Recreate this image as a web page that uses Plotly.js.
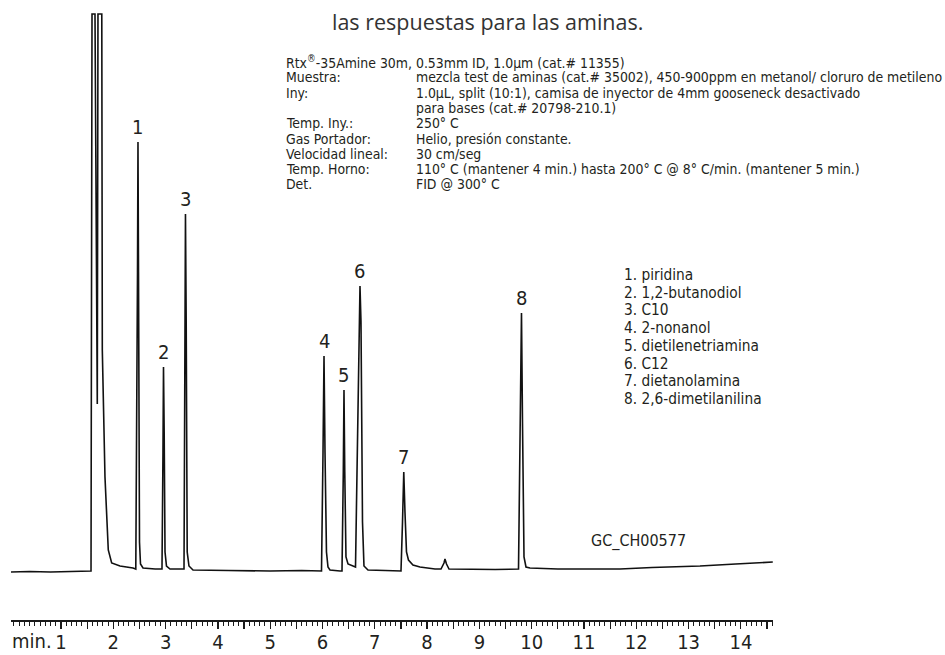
<!DOCTYPE html>
<html>
<head>
<meta charset="utf-8">
<script src="https://cdn.plot.ly/plotly-3.0.1.min.js"></script>
<style>
  html, body { margin: 0; padding: 0; background: #ffffff; }
  #chart { width: 945px; height: 655px; }
</style>
</head>
<body>
<div id="chart"></div>
<script>
// ---------------- DATA ----------------
// Chromatogram trace: retention time (min) and detector signal (arbitrary units)
const traceTime = [
  0.03, 0.40, 0.80, 1.20, 1.55, 1.574,
  1.593, 1.650, 1.694, 1.707, 1.780, 1.790, 1.841, 1.874, 1.904, 1.969, 2.128, 2.377, 2.430,
  2.463, 2.472, 2.482, 2.501, 2.520, 2.568, 2.800, 2.931,
  2.950, 2.960, 2.973, 2.989, 3.017, 3.084, 3.352,
  3.371, 3.380, 3.394, 3.413, 3.447, 3.524,
  4.200, 5.000, 5.600, 5.981,
  6.010, 6.029, 6.048, 6.076, 6.105, 6.143, 6.335, 6.373,
  6.398, 6.411, 6.426, 6.449, 6.488, 6.564, 6.631,
  6.660, 6.698, 6.717, 6.736, 6.765, 6.793, 6.870,
  7.200, 7.501,
  7.530, 7.554, 7.577, 7.606, 7.644, 7.730, 7.864, 8.151,
  8.266, 8.323, 8.342, 8.371, 8.419,
  8.800, 9.300, 9.748,
  9.786, 9.805, 9.824, 9.853, 9.891, 9.967,
  10.50, 11.00, 11.688, 12.30, 13.218, 13.90, 14.61
];
const traceSignal = [
  0, 0.5, 0, 0.5, 0.5, 1,
  558, 558, 168, 558, 558, 222, 95, 62, 22, 9, 6, 4, 3,
  300, 430, 300, 30, 8, 4, 3, 3,
  120, 205, 140, 20, 6, 3, 3,
  250, 358, 250, 20, 6, 2,
  1.5, 1, 1.5, 1,
  120, 216, 120, 20, 5, 2, 1, 1,
  100, 182, 100, 15, 8, 6, 5,
  100, 250, 286, 250, 50, 6, 2,
  1.5, 1,
  50, 100, 60, 20, 12, 7, 5, 3,
  3, 9, 13, 8, 3,
  2.5, 2.5, 3,
  150, 259, 150, 15, 5, 4,
  3, 3, 3, 4.5, 6, 8, 10
];

// Numbered peaks: apex retention time and apex signal
const peakNumbers = ['1', '2', '3', '4', '5', '6', '7', '8'];
const peakTimes   = [2.472, 2.960, 3.380, 6.029, 6.411, 6.717, 7.554, 9.805];
const peakHeights = [430, 205, 358, 216, 182, 286, 100, 259];

const compoundNames = [
  '1. piridina',
  '2. 1,2-butanodiol',
  '3. C10',
  '4. 2-nonanol',
  '5. dietilenetriamina',
  '6. C12',
  '7. dietanolamina',
  '8. 2,6-dimetilanilina'
];

const infoLabels = ['Rtx<sup>®</sup>-35Amine 30m, 0.53mm ID, 1.0µm (cat.# 11355)', 'Muestra:', 'Iny:', '', 'Temp. Iny.:',
                    'Gas Portador:', 'Velocidad lineal:', 'Temp. Horno:', 'Det.'];
const infoValues = ['',
  'mezcla test de aminas (cat.# 35002), 450-900ppm en metanol/ cloruro de metileno',
  '1.0µL, split (10:1), camisa de inyector de 4mm gooseneck desactivado',
  'para bases (cat.# 20798-210.1)',
  '250° C',
  'Helio, presión constante.',
  '30 cm/seg',
  '110° C (mantener 4 min.) hasta 200° C @ 8° C/min. (mantener 5 min.)',
  'FID @ 300° C'];

const headerText = 'las respuestas para las aminas.';
const chartCode = 'GC_CH00577';
const axisUnit = 'min.';

const tickValues = [1, 1.5, 2, 2.5, 3, 3.5, 4, 4.5, 5, 5.5, 6, 6.5, 7, 7.5, 8, 8.5, 9, 9.5, 10,
                    10.5, 11, 11.5, 12, 12.5, 13, 13.5, 14, 14.5];
const tickLabels = ['1', ' ', '2', ' ', '3', ' ', '4', ' ', '5', ' ', '6', ' ', '7', ' ', '8', ' ', '9', ' ', '10',
                    ' ', '11', ' ', '12', ' ', '13', ' ', '14', ' '];

// ---------------- LAYOUT HELPERS ----------------
const W = 945, H = 655;
const M = { l: 11, r: 172, t: 10, b: 35 };
const PW = W - M.l - M.r, PH = H - M.t - M.b;
const px = x => (x - M.l) / PW;        // pixel x -> paper x
const py = y => (H - M.b - y) / PH;    // pixel y -> paper y

const COND = '"DejaVu Sans Condensed", "Liberation Sans Narrow", sans-serif';
const INK = '#231f20';

const annotations = [];

// peak number labels
peakNumbers.forEach((n, i) => {
  annotations.push({
    x: peakTimes[i], y: peakHeights[i], xref: 'x', yref: 'y',
    text: n, showarrow: false, xanchor: 'center', yanchor: 'bottom', yshift: 1,
    font: { family: COND, size: 20, color: INK }
  });
});

// header line
annotations.push({
  x: px(487), y: py(22), xref: 'paper', yref: 'paper', text: headerText, showarrow: false,
  xanchor: 'center', yanchor: 'middle',
  font: { family: '"Open Sans", "Noto Sans", sans-serif', size: 21.5, color: '#333333' }
});

// info block
infoLabels.forEach((lab, i) => {
  const yy = 62 + i * 15.3;
  if (lab) annotations.push({
    x: px(284), y: py(yy), xref: 'paper', yref: 'paper', text: lab, showarrow: false,
    xanchor: 'left', yanchor: 'middle', font: { family: COND, size: 13.9, color: INK }
  });
  if (infoValues[i]) annotations.push({
    x: px(414), y: py(yy), xref: 'paper', yref: 'paper', text: infoValues[i], showarrow: false,
    xanchor: 'left', yanchor: 'middle', font: { family: COND, size: 13.9, color: INK }
  });
});

// compound list
compoundNames.forEach((c, i) => {
  annotations.push({
    x: px(622), y: py(275 + i * 17.7), xref: 'paper', yref: 'paper', text: c, showarrow: false,
    xanchor: 'left', yanchor: 'middle', font: { family: COND, size: 15.3, color: INK }
  });
});

// chart code
annotations.push({
  x: px(589), y: py(541), xref: 'paper', yref: 'paper', text: chartCode, showarrow: false,
  xanchor: 'left', yanchor: 'middle', font: { family: COND, size: 16, color: INK }
});

// axis unit
annotations.push({
  x: px(10), y: py(641), xref: 'paper', yref: 'paper', text: axisUnit, showarrow: false,
  xanchor: 'left', yanchor: 'middle', font: { family: COND, size: 20, color: INK }
});

const trace = {
  x: traceTime, y: traceSignal, type: 'scatter', mode: 'lines',
  line: { color: '#111111', width: 1.6, shape: 'linear' },
  hoverinfo: 'skip'
};

const layout = {
  width: W, height: H,
  margin: M,
  paper_bgcolor: '#ffffff', plot_bgcolor: '#ffffff',
  showlegend: false,
  xaxis: {
    range: [0.044, 14.614], showgrid: false, zeroline: false,
    showline: true, linecolor: '#1a1a1a', linewidth: 1.5,
    ticks: 'outside', ticklen: 7, tickwidth: 1.2, tickcolor: '#1a1a1a',
    tickmode: 'array', tickvals: tickValues, ticktext: tickLabels,
    ticklabelstandoff: -4,
    tickfont: { family: COND, size: 20, color: INK },
    minor: { tickmode: 'linear', tick0: 0, dtick: 0.1, ticks: 'outside', ticklen: 4, tickwidth: 1, tickcolor: '#1a1a1a', showgrid: false },
    fixedrange: true
  },
  yaxis: {
    range: [-48, 562], visible: false, showgrid: false, zeroline: false, fixedrange: true
  },
  annotations: annotations
};

Plotly.newPlot('chart', [trace], layout, { staticPlot: true, displayModeBar: false });
</script>
</body>
</html>
